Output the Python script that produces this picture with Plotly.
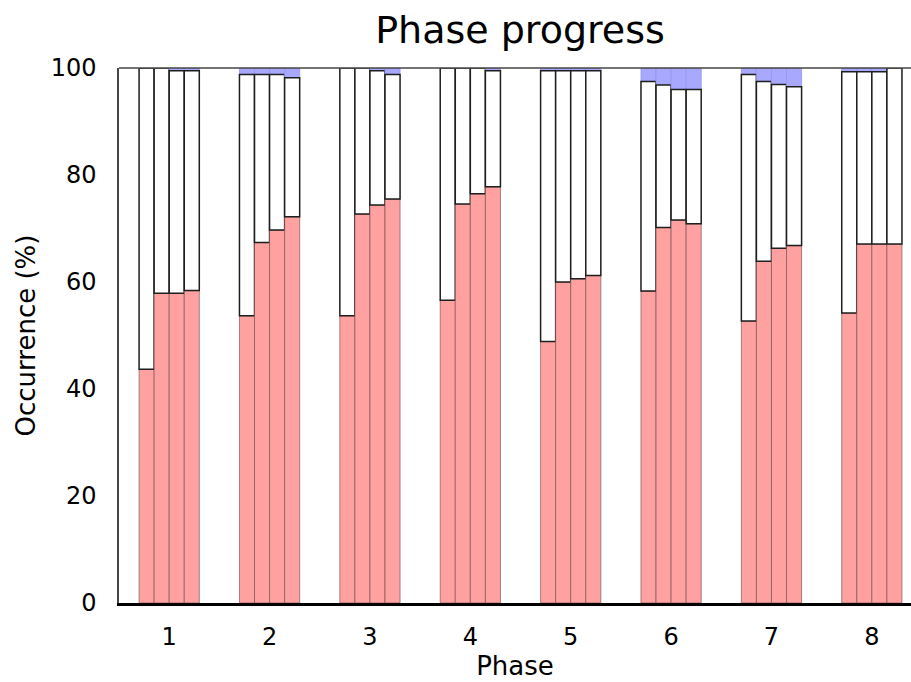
import plotly.graph_objects as go

phases = [1, 2, 3, 4, 5, 6, 7, 8]
tick_labels = ["1", "2", "3", "4", "5", "6", "7", "8"]

# Values per phase, for the 4 sub-bars of each phase (percent)
red = [
    [43.7, 57.9, 57.9, 58.4],
    [53.7, 67.4, 69.7, 72.2],
    [53.7, 72.7, 74.4, 75.5],
    [56.6, 74.6, 76.5, 77.8],
    [48.9, 60.0, 60.6, 61.2],
    [58.3, 70.2, 71.6, 70.9],
    [52.7, 63.9, 66.3, 66.8],
    [54.2, 67.1, 67.1, 67.1],
]
blue = [
    [0.0, 0.0, 0.5, 0.5],
    [1.2, 1.2, 1.2, 1.8],
    [0.0, 0.0, 0.5, 1.2],
    [0.0, 0.0, 0.0, 0.5],
    [0.5, 0.5, 0.5, 0.5],
    [2.5, 3.2, 4.0, 4.0],
    [1.2, 2.5, 3.1, 3.5],
    [0.7, 0.7, 0.7, 0.0],
]
white = [[round(100 - r - b, 2) for r, b in zip(rr, bb)] for rr, bb in zip(red, blue)]

BAR_W = 0.15
offsets = [-0.30, -0.15, 0.0, 0.15]

fig = go.Figure()
for k in range(4):
    r_vals = [row[k] for row in red]
    w_vals = [row[k] for row in white]
    b_vals = [row[k] for row in blue]
    top = [r + w for r, w in zip(r_vals, w_vals)]
    fig.add_trace(go.Bar(
        x=phases, y=r_vals, base=[0] * len(phases), offset=offsets[k], width=BAR_W,
        marker=dict(color="rgb(255,161,161)", line=dict(color="rgba(120,80,80,0.65)", width=1)),
        showlegend=False, hoverinfo="skip"))
    fig.add_trace(go.Bar(
        x=phases, y=b_vals, base=top, offset=offsets[k], width=BAR_W,
        marker=dict(color="rgb(168,168,255)", line=dict(color="rgb(150,150,235)", width=0.8)),
        showlegend=False, hoverinfo="skip"))
    fig.add_trace(go.Bar(
        x=phases, y=w_vals, base=r_vals, offset=offsets[k], width=BAR_W,
        marker=dict(color="white", line=dict(color="rgb(30,30,30)", width=1.5)),
        showlegend=False, hoverinfo="skip"))

font_family = "DejaVu Sans"
fig.update_layout(
    width=911, height=682,
    barmode="overlay",
    plot_bgcolor="white", paper_bgcolor="white",
    margin=dict(l=119, r=0, t=68, b=79, pad=0),
    font=dict(family=font_family, size=24, color="black"),
    title=dict(text="Phase progress", x=520 / 911, xanchor="center", xref="container",
               y=1 - 30 / 682, yanchor="middle", yref="container",
               font=dict(family=font_family, size=38, color="black")),
    xaxis=dict(range=[0.5, 8.39], tickmode="array", tickvals=phases, ticktext=tick_labels,
               showgrid=False, zeroline=False, ticks="", showline=True, linecolor="black",
               linewidth=3, ticklabelstandoff=10,
               title=dict(text="Phase", standoff=2, font=dict(size=26))),
    yaxis=dict(range=[0, 100], tickmode="array", tickvals=[0, 20, 40, 60, 80, 100],
               showgrid=False, zeroline=False, ticks="", showline=True, linecolor="rgb(70,70,70)",
               linewidth=1.5, ticklabelstandoff=16,
               title=dict(text="Occurrence (%)", standoff=8, font=dict(size=26))),
    shapes=[dict(type="line", xref="paper", yref="paper", x0=0, x1=1, y0=1, y1=1,
                 line=dict(color="rgb(70,70,70)", width=1.5))],
)

fig.write_html("out.html", config={"displayModeBar": False},
               post_script="document.body.style.margin='0';")
